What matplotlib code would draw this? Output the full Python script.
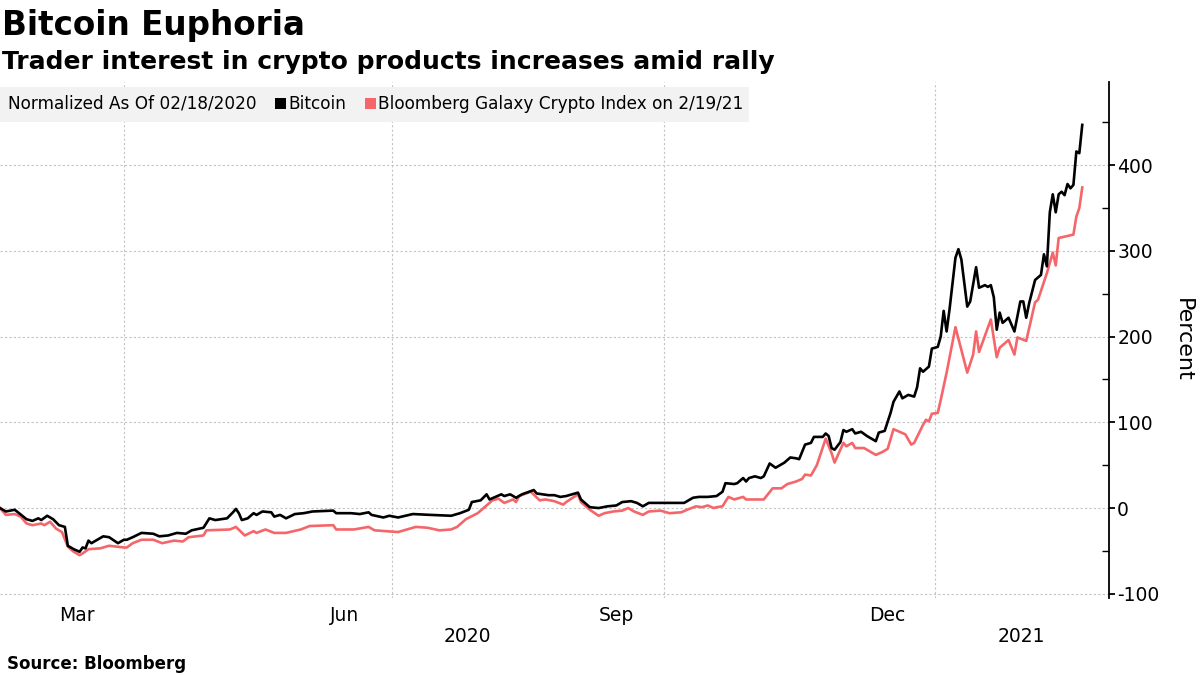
import numpy as np
import matplotlib
matplotlib.use('Agg')
import matplotlib.pyplot as plt
import matplotlib.dates as mdates
import matplotlib.transforms as mtransforms
from matplotlib.patches import Rectangle

plt.rcParams['font.family'] = ['DejaVu Sans']
plt.rcParams['axes.unicode_minus'] = False

start = np.datetime64('2020-02-18')

# days after 02/18/2020, percent change
btc_day = [1, 3, 6, 10, 12, 14, 15, 17, 19, 21, 23, 24, 26, 28, 29, 30, 31, 32, 34, 36,
           38, 41, 43, 44, 46, 49, 53, 55, 58, 61, 64, 66, 70, 72, 74, 78, 80, 81, 82, 83,
           85, 87, 88, 90, 93, 94, 96, 98, 101, 104, 107, 114, 115, 120, 123, 126, 127, 131, 133, 136,
           141, 147, 154, 157, 160, 161, 164, 166, 167, 169, 171, 172, 174, 176, 178, 182, 183, 187, 189, 191,
           193, 197, 198, 201, 204, 207, 210, 212, 215, 217, 219, 221, 226, 229, 233, 236, 238, 241, 244, 246,
           247, 250, 251, 253, 254, 255, 257, 259, 260, 262, 264, 266, 267, 269, 271, 272, 274, 276, 277, 280,
           281, 282, 283, 284, 286, 287, 288, 290, 291, 293, 295, 298, 299, 301, 303, 304, 306, 307, 309, 311,
           312, 313, 314, 316, 317, 318, 319, 320, 321, 322, 323, 325, 326, 327, 329, 330, 332, 333, 335, 336,
           337, 338, 339, 340, 341, 343, 345, 347, 348, 349, 350, 352, 354, 355, 356, 357, 358, 359, 360, 361,
           362, 363, 364, 365, 366, 367, 368]
btc_val = [0, -4, -2, -13, -15, -12, -14, -9, -13, -20, -22, -44, -48, -51, -46, -47, -38, -41, -37, -33,
           -34, -41, -37, -37, -34, -29, -30, -33, -32, -29, -30, -26, -23, -12, -14, -12, -5, -1, -6, -14,
           -12, -6, -8, -4, -5, -10, -8, -12, -7, -6, -4, -3, -6, -6, -7, -5, -8, -11, -9, -11,
           -7, -8, -9, -6, -2, 7, 9, 16, 10, 13, 16, 14, 16, 12, 16, 21, 17, 15, 15, 13,
           14, 18, 10, 1, 0, 2, 3, 7, 8, 6, 2, 6, 6, 6, 6, 12, 13, 13, 14, 19,
           29, 28, 29, 35, 31, 35, 37, 35, 37, 52, 47, 51, 53, 59, 58, 57, 74, 76, 83, 83,
           87, 84, 70, 68, 77, 91, 89, 92, 87, 89, 84, 78, 88, 90, 111, 124, 136, 128, 132, 130,
           141, 163, 159, 165, 186, 187, 188, 200, 230, 206, 232, 292, 302, 290, 235, 241, 281, 257, 260, 258,
           260, 246, 208, 228, 216, 222, 206, 241, 241, 222, 239, 266, 272, 296, 282, 345, 366, 345, 366, 369,
           365, 378, 373, 377, 416, 414, 447]

bgci_day = [1, 3, 6, 8, 10, 12, 15, 16, 18, 20, 22, 24, 26, 28, 29, 31, 35, 38, 43, 44,
            46, 49, 53, 56, 60, 63, 65, 70, 71, 79, 81, 84, 87, 88, 91, 94, 98, 103, 106, 114,
            115, 121, 126, 128, 136, 139, 142, 146, 150, 154, 156, 159, 163, 166, 168, 170, 172, 175, 176, 177,
            181, 184, 186, 189, 192, 193, 197, 198, 201, 204, 206, 209, 212, 214, 216, 219, 221, 225, 228, 232,
            234, 237, 239, 241, 243, 244, 246, 248, 250, 253, 254, 257, 260, 263, 266, 268, 271, 273, 274, 276,
            278, 281, 283, 284, 287, 288, 290, 291, 294, 295, 298, 300, 302, 304, 306, 308, 310, 311, 313, 314,
            315, 316, 317, 319, 320, 322, 325, 329, 331, 332, 333, 337, 339, 340, 343, 345, 346, 349, 352, 353,
            356, 358, 359, 360, 365, 366, 367, 368]
bgci_val = [0, -8, -7, -10, -18, -20, -18, -20, -16, -24, -28, -45, -51, -55, -53, -48, -47, -44, -46, -46,
            -41, -37, -37, -41, -38, -39, -34, -32, -26, -25, -22, -32, -27, -29, -25, -29, -29, -25, -21, -20,
            -25, -25, -22, -26, -28, -25, -22, -23, -26, -25, -22, -13, -6, 3, 9, 11, 6, 10, 7, 14,
            19, 9, 10, 8, 4, 7, 16, 7, -2, -9, -6, -4, -3, 0, -4, -8, -4, -3, -6, -5,
            -2, 2, 1, 3, 0, 1, 2, 13, 10, 13, 10, 10, 10, 23, 23, 28, 31, 34, 39, 38,
            50, 81, 64, 53, 76, 72, 76, 70, 70, 68, 62, 65, 69, 92, 89, 86, 74, 76, 90, 97,
            103, 101, 110, 111, 126, 158, 211, 158, 179, 206, 182, 220, 176, 187, 196, 179, 199, 195, 240, 243,
            274, 298, 283, 315, 319, 340, 350, 374]

month_labels = ['Mar', 'Jun', 'Sep', 'Dec']
month_ticks = np.array(['2020-03-16', '2020-06-15', '2020-09-15', '2020-12-16'], dtype='datetime64[D]')
quarter_lines = np.array(['2020-04-01', '2020-07-01', '2020-10-01', '2021-01-01'], dtype='datetime64[D]')
year_labels = ['2020', '2021']
legend_note = 'Normalized As Of 02/18/2020'
series_names = ['Bitcoin', 'Bloomberg Galaxy Crypto Index on 2/19/21']

btc_dates = start + np.array(btc_day, dtype='timedelta64[D]')
bgci_dates = start + np.array(bgci_day, dtype='timedelta64[D]')

black = '#000000'
red = '#f5666a'
grid_col = '#c4c4c4'
W, H = 1200, 675

fig = plt.figure(figsize=(12, 6.75), dpi=100)
ax = fig.add_axes([0, 0.114, 0.924, 0.7645])

ax.plot(bgci_dates, bgci_val, color=red, lw=1.9)
ax.plot(btc_dates, btc_val, color=black, lw=1.9)

x_left = start + np.timedelta64(1, 'D')
x_right = start + np.timedelta64(377, 'D')
ax.set_xlim(x_left, x_right)
ax.set_ylim(-105, 497)

for s in ['top', 'left', 'bottom']:
    ax.spines[s].set_visible(False)
ax.spines['right'].set_linewidth(1.3)

ax.yaxis.tick_right()
ax.yaxis.set_label_position('right')
ax.set_yticks(range(-100, 500, 100))
ax.set_yticks(range(-50, 500, 100), minor=True)
ax.tick_params(axis='y', which='major', direction='out', length=4, width=1.3, labelsize=13.5, pad=2)
ax.tick_params(axis='y', which='minor', direction='in', length=5, width=1)
ax.set_ylabel('Percent', rotation=270, fontsize=16, labelpad=24)

ax.set_xticks(month_ticks)
ax.set_xticklabels(month_labels)
ax.set_xticks(quarter_lines, minor=True)
ax.tick_params(axis='x', which='both', length=0, labelsize=13.5, pad=6)

ax.grid(axis='y', which='major', color=grid_col, linestyle=(0, (2, 2)), lw=0.8)
ax.grid(axis='x', which='minor', color=grid_col, linestyle=(0, (2, 2)), lw=0.8)
ax.set_axisbelow(True)

trans = mtransforms.blended_transform_factory(ax.transData, ax.transAxes)
l, r = mdates.date2num(x_left), mdates.date2num(x_right)
jan = mdates.date2num(quarter_lines[-1])
ax.text((l + jan) / 2, -0.075, year_labels[0], transform=trans, ha='center', va='center', fontsize=13.5)
ax.text((jan + r) / 2, -0.075, year_labels[1], transform=trans, ha='center', va='center', fontsize=13.5)

# legend strip, laid out left to right in pixels
box = Rectangle((0, 1 - 122 / H), 755 / W, 35 / H, transform=fig.transFigure,
                facecolor='#f2f2f2', edgecolor='none', zorder=2)
fig.patches.append(box)
renderer = fig.canvas.get_renderer()
ly = 1 - 104 / H
x = 8
t = fig.text(x / W, ly, legend_note, fontsize=12.2, va='center', zorder=3)
x = t.get_window_extent(renderer).x1 + 18
for name, col, gap in [(series_names[0], black, 18), (series_names[1], red, 0)]:
    fig.patches.append(Rectangle((x / W, 1 - 109 / H), 11 / W, 11 / H, transform=fig.transFigure,
                                 facecolor=col, edgecolor='none', zorder=3))
    t = fig.text((x + 14) / W, ly, name, fontsize=12.2, va='center', zorder=3)
    x = t.get_window_extent(renderer).x1 + gap
box.set_width((x + 5) / W)

fig.text(0.002, 0.948, 'Bitcoin Euphoria', fontsize=23.5, fontweight='bold', va='baseline')
fig.text(0.002, 0.898, 'Trader interest in crypto products increases amid rally', fontsize=18,
         fontweight='bold', va='baseline')
fig.text(0.006, 0.009, 'Source: Bloomberg', fontsize=12, fontweight='bold', va='baseline')

fig.savefig('out.png', dpi=100)
